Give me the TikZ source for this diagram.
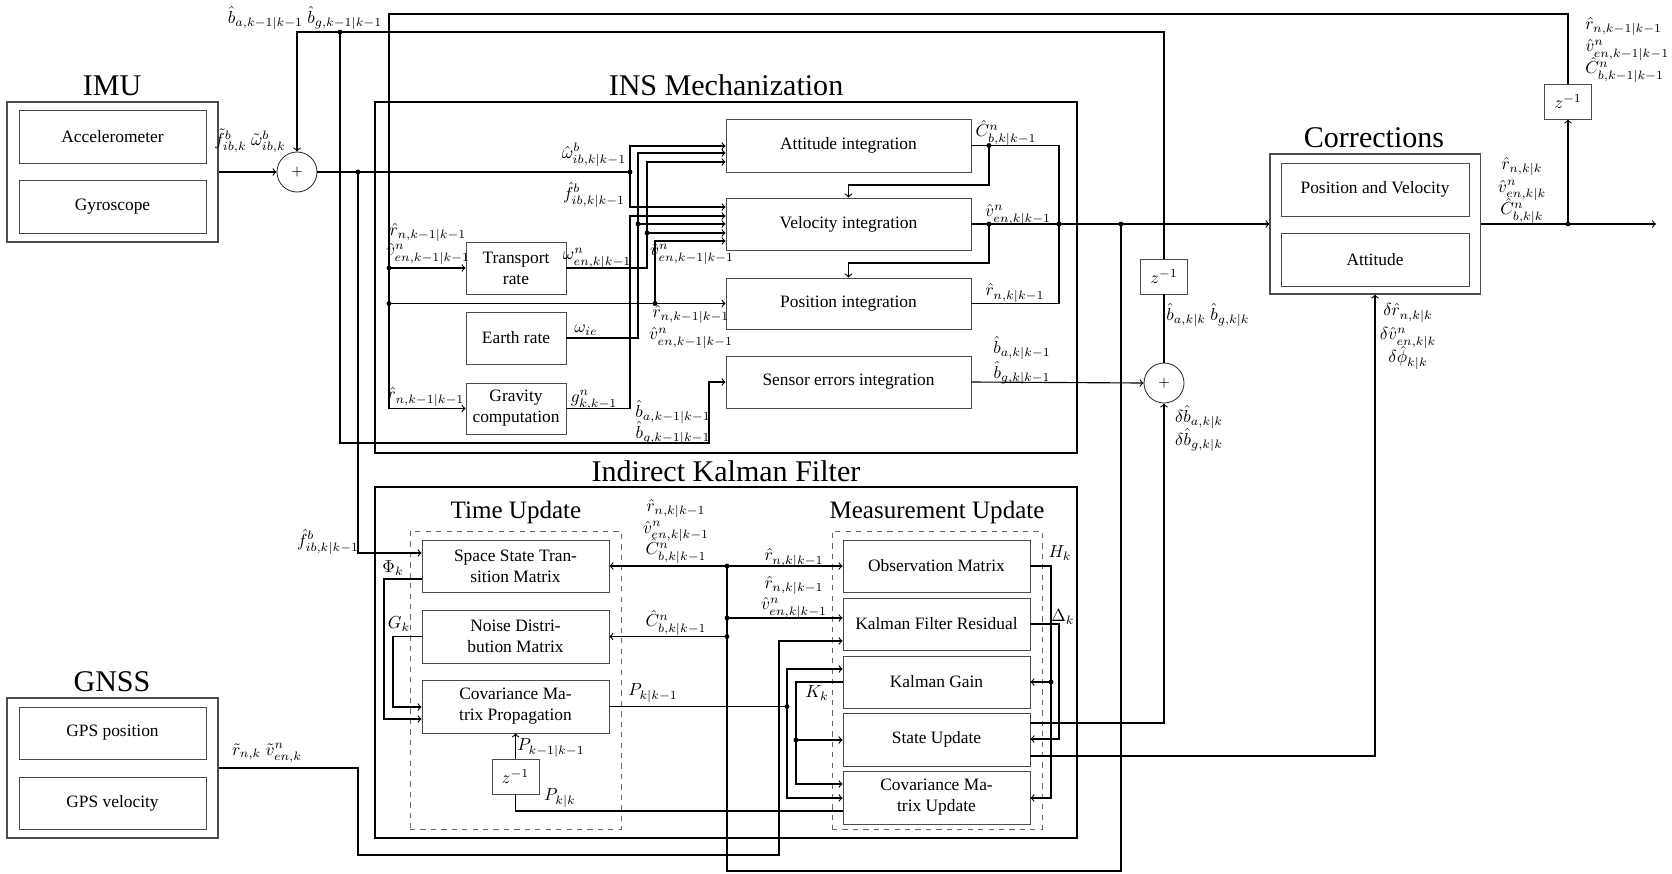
\documentclass[tikz,border=0pt]{standalone}
\usepackage[no-math]{fontspec}
\setmainfont{Liberation Serif}
\tikzset{
  bx/.style 2 args={draw=black!70, line width=0.5pt, minimum width=#1*0.575pt, minimum height=#2*0.575pt, inner sep=1pt, align=center},
  obx/.style 2 args={draw=black!70, line width=0.6pt, minimum width=#1*0.575pt, minimum height=#2*0.575pt, inner sep=0pt},
  thickbx/.style 2 args={draw=black, line width=1.4pt, minimum width=#1*0.575pt, minimum height=#2*0.575pt, inner sep=0pt},
  dashbx/.style 2 args={draw=black!60, dashed, line width=0.5pt, minimum width=#1*0.575pt, minimum height=#2*0.575pt, inner sep=0pt},
  ttl/.style={font=\LARGE, inner sep=0pt},
  ttlm/.style={font=\Large, inner sep=0pt},
  lbl/.style={inner sep=0pt},
  stk/.style={inner sep=0pt, align=center, font={\fontsize{10}{#1}\selectfont\lineskiplimit=-100pt\relax}},
  stkl/.style={inner sep=0pt, align=left, font={\fontsize{10}{#1}\selectfont\lineskiplimit=-100pt\relax}},
  zb/.style={draw=black!70, line width=0.5pt, minimum width=47*0.575pt, minimum height=35*0.575pt, inner sep=0pt},
  sumc/.style={draw=black!80, line width=0.5pt, circle, minimum size=40*0.575pt, inner sep=0pt, font=\footnotesize},
  conn/.style={line width=0.65pt},
}
\begin{document}
\begin{tikzpicture}[x=0.575pt,y=-0.575pt,>=to]
\useasboundingbox (0,0) rectangle (1672,873);
% ---------------- IMU
\node[obx={211}{140}] (imu) at (112.5,172) {};
\node[bx={187}{53}] (acc) at (112.5,136.5) {Accelerometer};
\node[bx={187}{53}] (gyr) at (112.5,206.5) {Gyroscope};
\node[ttl] (imut) at (112,86) {IMU};
% ---------------- GNSS
\node[obx={211}{140}] (gns) at (112.5,768) {};
\node[bx={187}{52}] (gpp) at (112.5,733) {GPS position};
\node[bx={187}{52}] (gpv) at (112.5,803) {GPS velocity};
\node[ttl] (gnst) at (112,682) {GNSS};
% ---------------- sum 1
\node[sumc] (s1) at (297,172) {$+$};
% ---------------- INS
\node[thickbx={702}{351}] (ins) at (726,277.5) {};
\node[ttl] (inst) at (726,85) {INS Mechanization};
\node[bx={245}{53}] (att) at (848.5,145.5) {Attitude integration};
\node[bx={245}{52}] (vel) at (848.5,224) {Velocity integration};
\node[bx={245}{51}] (pos) at (848.5,303.5) {Position integration};
\node[bx={245}{52}] (sen) at (848.5,382) {Sensor errors integration};
\node[bx={100}{52}] (tra) at (516,268) {Transport\\rate};
\node[bx={100}{52}] (ear) at (516,338) {Earth rate};
\node[bx={100}{51}] (gra) at (516,408.5) {Gravity\\computation};
% ---------------- Corrections
\node[obx={210}{140}] (cor) at (1375,224) {};
\node[bx={188}{53}] (pv) at (1375,189.5) {Position and Velocity};
\node[bx={188}{53}] (atc) at (1375,259.5) {Attitude};
\node[ttl] (cort) at (1374,138) {Corrections};
\node[zb] (z1) at (1568,101.5) {$z^{-1}$};
\node[zb] (z2) at (1164,276.5) {$z^{-1}$};
\node[sumc] (s2) at (1164,383) {$+$};
% ---------------- Kalman filter
\node[thickbx={702}{351}] (kf) at (726,662.5) {};
\node[ttl] (kft) at (726,471) {Indirect Kalman Filter};
\node[dashbx={211}{298}] (tu) at (515.5,680) {};
\node[dashbx={210}{298}] (mu) at (937,680) {};
\node[ttlm] (tut) at (516,512) {Time Update};
\node[ttlm] (mut) at (937,512) {Measurement Update};
\node[bx={187}{52}] (sst) at (515.5,566) {Space State Tran-\\sition Matrix};
\node[bx={187}{53}] (noi) at (515.5,636.5) {Noise Distri-\\bution Matrix};
\node[bx={187}{53}] (cmp) at (515.5,706.5) {Covariance Ma-\\trix Propagation};
\node[zb] (z3) at (515.5,776.5) {$z^{-1}$};
\node[bx={187}{52}] (om) at (936.5,566) {Observation Matrix};
\node[bx={187}{52}] (kfr) at (936.5,624) {Kalman Filter Residual};
\node[bx={187}{52}] (kg) at (936.5,682) {Kalman Gain};
\node[bx={187}{53}] (su) at (936.5,739.5) {State Update};
\node[bx={187}{53}] (cmu) at (936.5,797.5) {Covariance Ma-\\trix Update};
% ---------------- junctions
\coordinate (jf) at (358,172);
\coordinate (jw) at (630,172);
\coordinate (je) at (638,224);
\coordinate (jt) at (647,233);
\coordinate (jr1) at (389,268);
\coordinate (jr2) at (389,303.5);
\coordinate (jp) at (655,303.5);
\coordinate (jb) at (340,32);
\coordinate (ja) at (989,145.5);
\coordinate (jv) at (989,224);
\coordinate (jm) at (1059,224);
\coordinate (jk) at (1121,224);
\coordinate (jk1) at (727,566);
\coordinate (jk2) at (727,618);
\coordinate (jk3) at (727,636.5);
\coordinate (jc) at (1568,224);
\coordinate (out) at (1656,224);
\coordinate (jP) at (787,706.5);
\coordinate (jK) at (796,740);
\coordinate (jH) at (1051,682);
% ---------------- connectors
\begin{scope}[conn]
\draw[->] (imu.east) -- (s1.west);
\draw (s1.east) -- (jw);
\draw[->] (jw) |- (att.west |- 0,146);
\draw[->] (jw) |- (vel.west |- 0,207);
\draw[->] (gra.east) -| (630,216) -- (vel.west |- 0,216);
\draw[->] (ear.east) -| (638,153) -- (att.west |- 0,153);
\draw[->] (je) -- (vel.west |- 0,224);
\draw[->] (tra.east) -| (647,162) -- (att.west |- 0,162);
\draw[->] (jt) -- (vel.west |- 0,233);
\draw[->] (z1.north) |- (389,14) -- (389,408.5) -- (gra.west);
\draw[->] (jr1) -- (tra.west);
\draw[->] (jr2) -- (pos.west);
\draw[->] (jp) |- (vel.west |- 0,241);
\draw (s2.north) -- (z2.south);
\draw[->] (z2.north) |- (297,32) -- (s1.north);
\draw[->] (jb) -- (340,443) -| (709,382) -- (sen.west);
\draw[->] (jf) |- (sst.west |- 0,553);
\draw (att.east) -| (jm);
\draw[->] (ja) -- (989,185) -| (vel.north);
\draw[->] (jv) -- (989,263) -| (pos.north);
\draw[->] (vel.east) -- (cor.west);
\draw (pos.east) -| (jm);
\draw[->] (sen.east) -- (s2.west);
\draw (jk) -- (1121,871) -| (jk1);
\draw[->] (jk1) -- (sst.east);
\draw[->] (jk1) -- (om.west);
\draw[->] (jk2) -- (kfr.west |- 0,618);
\draw[->] (jk3) -- (noi.east);
\draw[->] (cor.east) -- (out);
\draw[->] (jc) -- (z1.south);
\draw[->] (gns.east) -- (358,768) |- (779,855) |- (kfr.west |- 0,641);
\draw[->] (sst.west |- 0,579) -| (384,719) -- (cmp.west |- 0,719);
\draw[->] (noi.west) -| (393,707) -- (cmp.west |- 0,707);
\draw[->] (z3.north) -- (cmp.south);
\draw (cmu.west |- 0,811) -| (z3.south);
\draw (cmp.east) -- (jP);
\draw[->] (jP) |- (kg.west |- 0,669);
\draw[->] (jP) |- (cmu.west |- 0,798);
\draw[->] (kg.west) -| (796,784) -- (cmu.west |- 0,784);
\draw[->] (jK) -- (su.west |- 0,740);
\draw[->] (om.east) -| (1051,798) -- (cmu.east |- 0,798);
\draw[->] (jH) -- (kg.east);
\draw[->] (kfr.east) -| (1059,739) -- (su.east |- 0,739);
\draw[->] (su.east |- 0,723) -| (s2.south);
\draw[->] (su.east |- 0,756) -| (cor.south);
\end{scope}
\foreach \j in {jf,jw,je,jt,jr1,jr2,jp,jb,ja,jv,jm,jk,jk1,jk2,jk3,jc,jP,jK,jH}
  \fill (\j) circle (1.4pt);
% ---------------- labels
\node[lbl] (l1) at (250,141) {$\tilde f^b_{ib,k}\ \tilde\omega^b_{ib,k}$};
\node[lbl] (l2) at (305,18) {$\hat b_{a,k-1|k-1}\ \hat b_{g,k-1|k-1}$};
\node[lbl] (l3) at (594,155) {$\hat\omega^b_{ib,k|k-1}$};
\node[lbl] (l4) at (594,195) {$\hat f^b_{ib,k|k-1}$};
\node[stk=11.5] (s5) at (428,244) {$\hat r_{n,k-1|k-1}$\\$\hat v^n_{en,k-1|k-1}$};
\node[lbl] (l7) at (597,258) {$\omega^n_{en,k|k-1}$};
\node[lbl] (l8) at (586,330) {$\omega_{ie}$};
\node[lbl] (l9) at (426,397) {$\hat r_{n,k-1|k-1}$};
\node[lbl] (l10) at (594,400) {$g^n_{k,k-1}$};
\node[lbl] (l11) at (692,254) {$\hat v^n_{en,k-1|k-1}$};
\node[stk=12.6] (s12) at (691,327) {$\hat r_{n,k-1|k-1}$\\$\hat v^n_{en,k-1|k-1}$};
\node[stk=12.1] (s14) at (673,422.5) {$\hat b_{a,k-1|k-1}$\\$\hat b_{g,k-1|k-1}$};
\node[lbl] (l16) at (1006,133) {$\hat C^n_{b,k|k-1}$};
\node[lbl] (l17) at (1018,215) {$\hat v^n_{en,k|k-1}$};
\node[lbl] (l18) at (1015,293) {$\hat r_{n,k|k-1}$};
\node[stk=14.4] (s19) at (1022,360.5) {$\hat b_{a,k|k-1}$\\$\hat b_{g,k|k-1}$};
\node[lbl] (l21) at (1208,315) {$\hat b_{a,k|k}\ \hat b_{g,k|k}$};
\node[stk=13.2] (s22) at (1199,428.5) {$\delta\hat b_{a,k|k}$\\$\delta\hat b_{g,k|k}$};
\node[stkl=12.6, anchor=west] (s24) at (1585,50) {$\hat r_{n,k-1|k-1}$\\$\hat v^n_{en,k-1|k-1}$\\$\hat C^n_{b,k-1|k-1}$};
\node[stk=12.9] (s27) at (1522,190.5) {$\hat r_{n,k|k}$\\$\hat v^n_{en,k|k}$\\$\hat C^n_{b,k|k}$};
\node[stk=13.5] (s30) at (1408,336.5) {$\delta\hat r_{n,k|k}$\\$\delta\hat v^n_{en,k|k}$\\$\delta\hat\phi_{k|k}$};
\node[lbl] (l33) at (328,542) {$\hat f^b_{ib,k|k-1}$};
\node[stk=12.4] (s34) at (676,531.5) {$\hat r_{n,k|k-1}$\\$\hat v^n_{en,k|k-1}$\\$\hat C^n_{b,k|k-1}$};
\node[lbl] (l37) at (676,623) {$\hat C^n_{b,k|k-1}$};
\node[lbl] (l38) at (794,558) {$\hat r_{n,k|k-1}$};
\node[stk=12.1] (s39) at (794,597.5) {$\hat r_{n,k|k-1}$\\$\hat v^n_{en,k|k-1}$};
\node[lbl] (l41) at (653,693) {$P_{k|k-1}$};
\node[lbl] (l42) at (393,568) {$\Phi_k$};
\node[lbl] (l43) at (399,624) {$G_k$};
\node[lbl] (l44) at (551,748) {$P_{k-1|k-1}$};
\node[lbl] (l45) at (560,798) {$P_{k|k}$};
\node[lbl] (l46) at (817,693) {$K_k$};
\node[lbl] (l47) at (1060,553) {$H_k$};
\node[lbl] (l48) at (1063,617) {$\Delta_k$};
\node[lbl] (l49) at (267,753) {$\tilde r_{n,k}\ \tilde v^n_{en,k}$};
\end{tikzpicture}
\end{document}
